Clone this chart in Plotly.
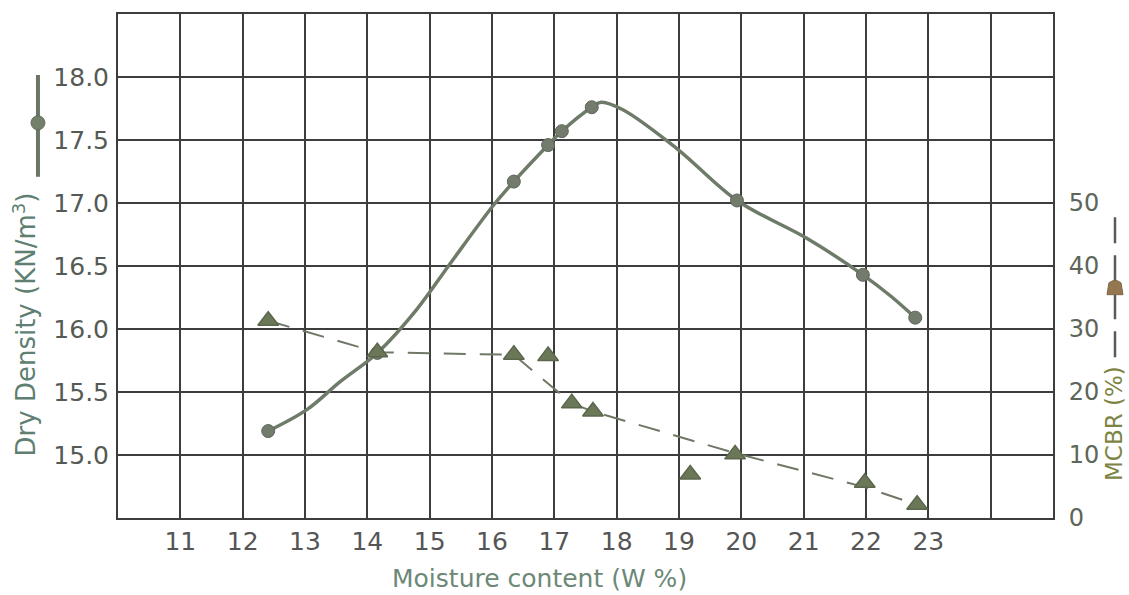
import plotly.graph_objects as go

# ---- data ----
moisture_density = [12.41, 14.16, 16.35, 16.90, 17.12, 17.60, 19.93, 21.95, 22.79]
dry_density = [15.19, 15.81, 17.17, 17.46, 17.57, 17.76, 17.02, 16.43, 16.09]

# hand-drawn compaction curve
curve_x = [12.41, 13.03, 13.56, 14.16, 14.80, 15.33, 16.02, 16.35, 16.90, 17.12,
           17.60, 17.75, 18.10, 18.97, 19.93, 21.05, 21.95, 22.40, 22.79]
curve_y = [15.19, 15.36, 15.58, 15.81, 16.16, 16.52, 16.98, 17.17, 17.46, 17.57,
           17.76, 17.80, 17.74, 17.43, 17.02, 16.72, 16.43, 16.26, 16.09]

moisture_mcbr = [12.41, 14.16, 16.35, 16.90, 17.28, 17.62, 19.18, 19.90, 21.98, 22.82]
mcbr = [31.3, 26.3, 25.9, 25.7, 18.2, 16.9, 6.9, 10.1, 5.6, 2.1]

# dashed trend line drawn through the MCBR points
mcbr_line_x = [12.41, 14.16, 16.35, 17.28, 17.62, 19.90, 21.98, 22.82]
mcbr_line_y = [31.3, 26.3, 25.9, 18.2, 16.9, 10.3, 4.9, 2.1]

x_ticks = [11, 12, 13, 14, 15, 16, 17, 18, 19, 20, 21, 22, 23, 24]
x_ticktext = ["11", "12", "13", "14", "15", "16", "17", "18", "19", "20", "21", "22", "23", ""]
y_ticks = [15.0, 15.5, 16.0, 16.5, 17.0, 17.5, 18.0]
y2_ticks = [0, 10, 20, 30, 40, 50]

FONT = "DejaVu Sans"
GRID = "#3d3d3d"
LINE_C = "#6f7b69"
MARK_C = "#737b6c"
TRI_C = "#6b7858"

fig = go.Figure()

fig.add_trace(go.Scatter(
    x=curve_x, y=curve_y, mode="lines",
    line=dict(color=LINE_C, width=3.5, shape="spline", smoothing=1.0),
    hoverinfo="skip", showlegend=False))
fig.add_trace(go.Scatter(
    x=moisture_density, y=dry_density, mode="markers",
    marker=dict(symbol="circle", size=13, color=MARK_C,
                line=dict(color="#5f665a", width=1)),
    name="Dry Density", showlegend=False))

fig.add_trace(go.Scatter(
    x=mcbr_line_x, y=mcbr_line_y, mode="lines", yaxis="y2",
    line=dict(color="#6f7866", width=2, dash="22px,14px"),
    hoverinfo="skip", showlegend=False))
fig.add_trace(go.Scatter(
    x=moisture_mcbr, y=mcbr, mode="markers", yaxis="y2",
    marker=dict(symbol="triangle-up", size=18, color=TRI_C,
                line=dict(color="#5c664d", width=1.5)),
    name="MCBR", showlegend=False))

# legend glyphs beside the axis titles
shapes = [
    dict(type="line", xref="paper", yref="paper", x0=-0.0856, x1=-0.0856, y0=0.677, y1=0.879,
         line=dict(color="#6a7566", width=4)),
    dict(type="circle", xref="paper", yref="paper", xsizemode="pixel", ysizemode="pixel",
         xanchor=-0.0856, yanchor=0.784, x0=-7, x1=7, y0=-7, y1=7,
         fillcolor="#74806c", line=dict(color="#5f6a5a", width=1)),
    dict(type="line", xref="paper", yref="paper", x0=1.0663, x1=1.0663, y0=0.319, y1=0.607,
         line=dict(color="#5a5a5a", width=2.5, dash="26px,12px")),
    dict(type="path", xref="paper", yref="paper", xsizemode="pixel", ysizemode="pixel",
         xanchor=1.0663, yanchor=0.455, path="M -8 -6 L 8 -6 L 6 6 L 0 9 L -6 6 Z",
         fillcolor="#94764f", line=dict(color="#7a6a4e", width=1)),
]

annotations = [
    dict(text="Dry Density (KN/m<sup>3</sup>)", xref="paper", yref="paper", x=-0.1, y=0.383,
         xanchor="center", yanchor="middle",
         textangle=-90, showarrow=False, font=dict(family=FONT, size=26, color="#5e7f72")),
    dict(text="MCBR (%)", xref="paper", yref="paper", x=1.065, y=0.188,
         xanchor="center", yanchor="middle",
         textangle=-90, showarrow=False, font=dict(family=FONT, size=23, color="#7c8443")),
    dict(text="Moisture content (W %)", xref="paper", yref="paper", x=0.451, y=-0.12,
         xanchor="center", yanchor="middle",
         showarrow=False, font=dict(family=FONT, size=25, color="#6c8877")),
]

fig.update_layout(
    width=1129, height=595,
    margin=dict(l=118, r=76, t=14, b=77),
    paper_bgcolor="white", plot_bgcolor="white",
    font=dict(family=FONT, size=25, color="#555555"),
    showlegend=False,
    shapes=shapes,
    annotations=annotations,
    xaxis=dict(range=[10, 25], tickvals=x_ticks, ticktext=x_ticktext,
               showgrid=True, gridcolor=GRID, gridwidth=1.6,
               showline=True, linecolor=GRID, linewidth=2, mirror=True,
               ticks="", zeroline=False,
               tickfont=dict(family=FONT, size=25, color="#555555")),
    yaxis=dict(range=[14.5, 18.5], tickvals=y_ticks, tickformat=".1f",
               showgrid=True, gridcolor=GRID, gridwidth=1.6,
               showline=True, linecolor=GRID, linewidth=2, mirror=True,
               ticks="outside", ticklen=2, tickcolor="rgba(0,0,0,0)", zeroline=False,
               tickfont=dict(family=FONT, size=25, color="#555a55")),
    yaxis2=dict(range=[0, 80], tickvals=y2_ticks, overlaying="y", side="right",
                showgrid=False, zeroline=False, showline=False,
                ticks="outside", ticklen=10, tickcolor="rgba(0,0,0,0)",
                tickfont=dict(family=FONT, size=24, color="#5d6659")),
)

fig.write_html("out.html")
